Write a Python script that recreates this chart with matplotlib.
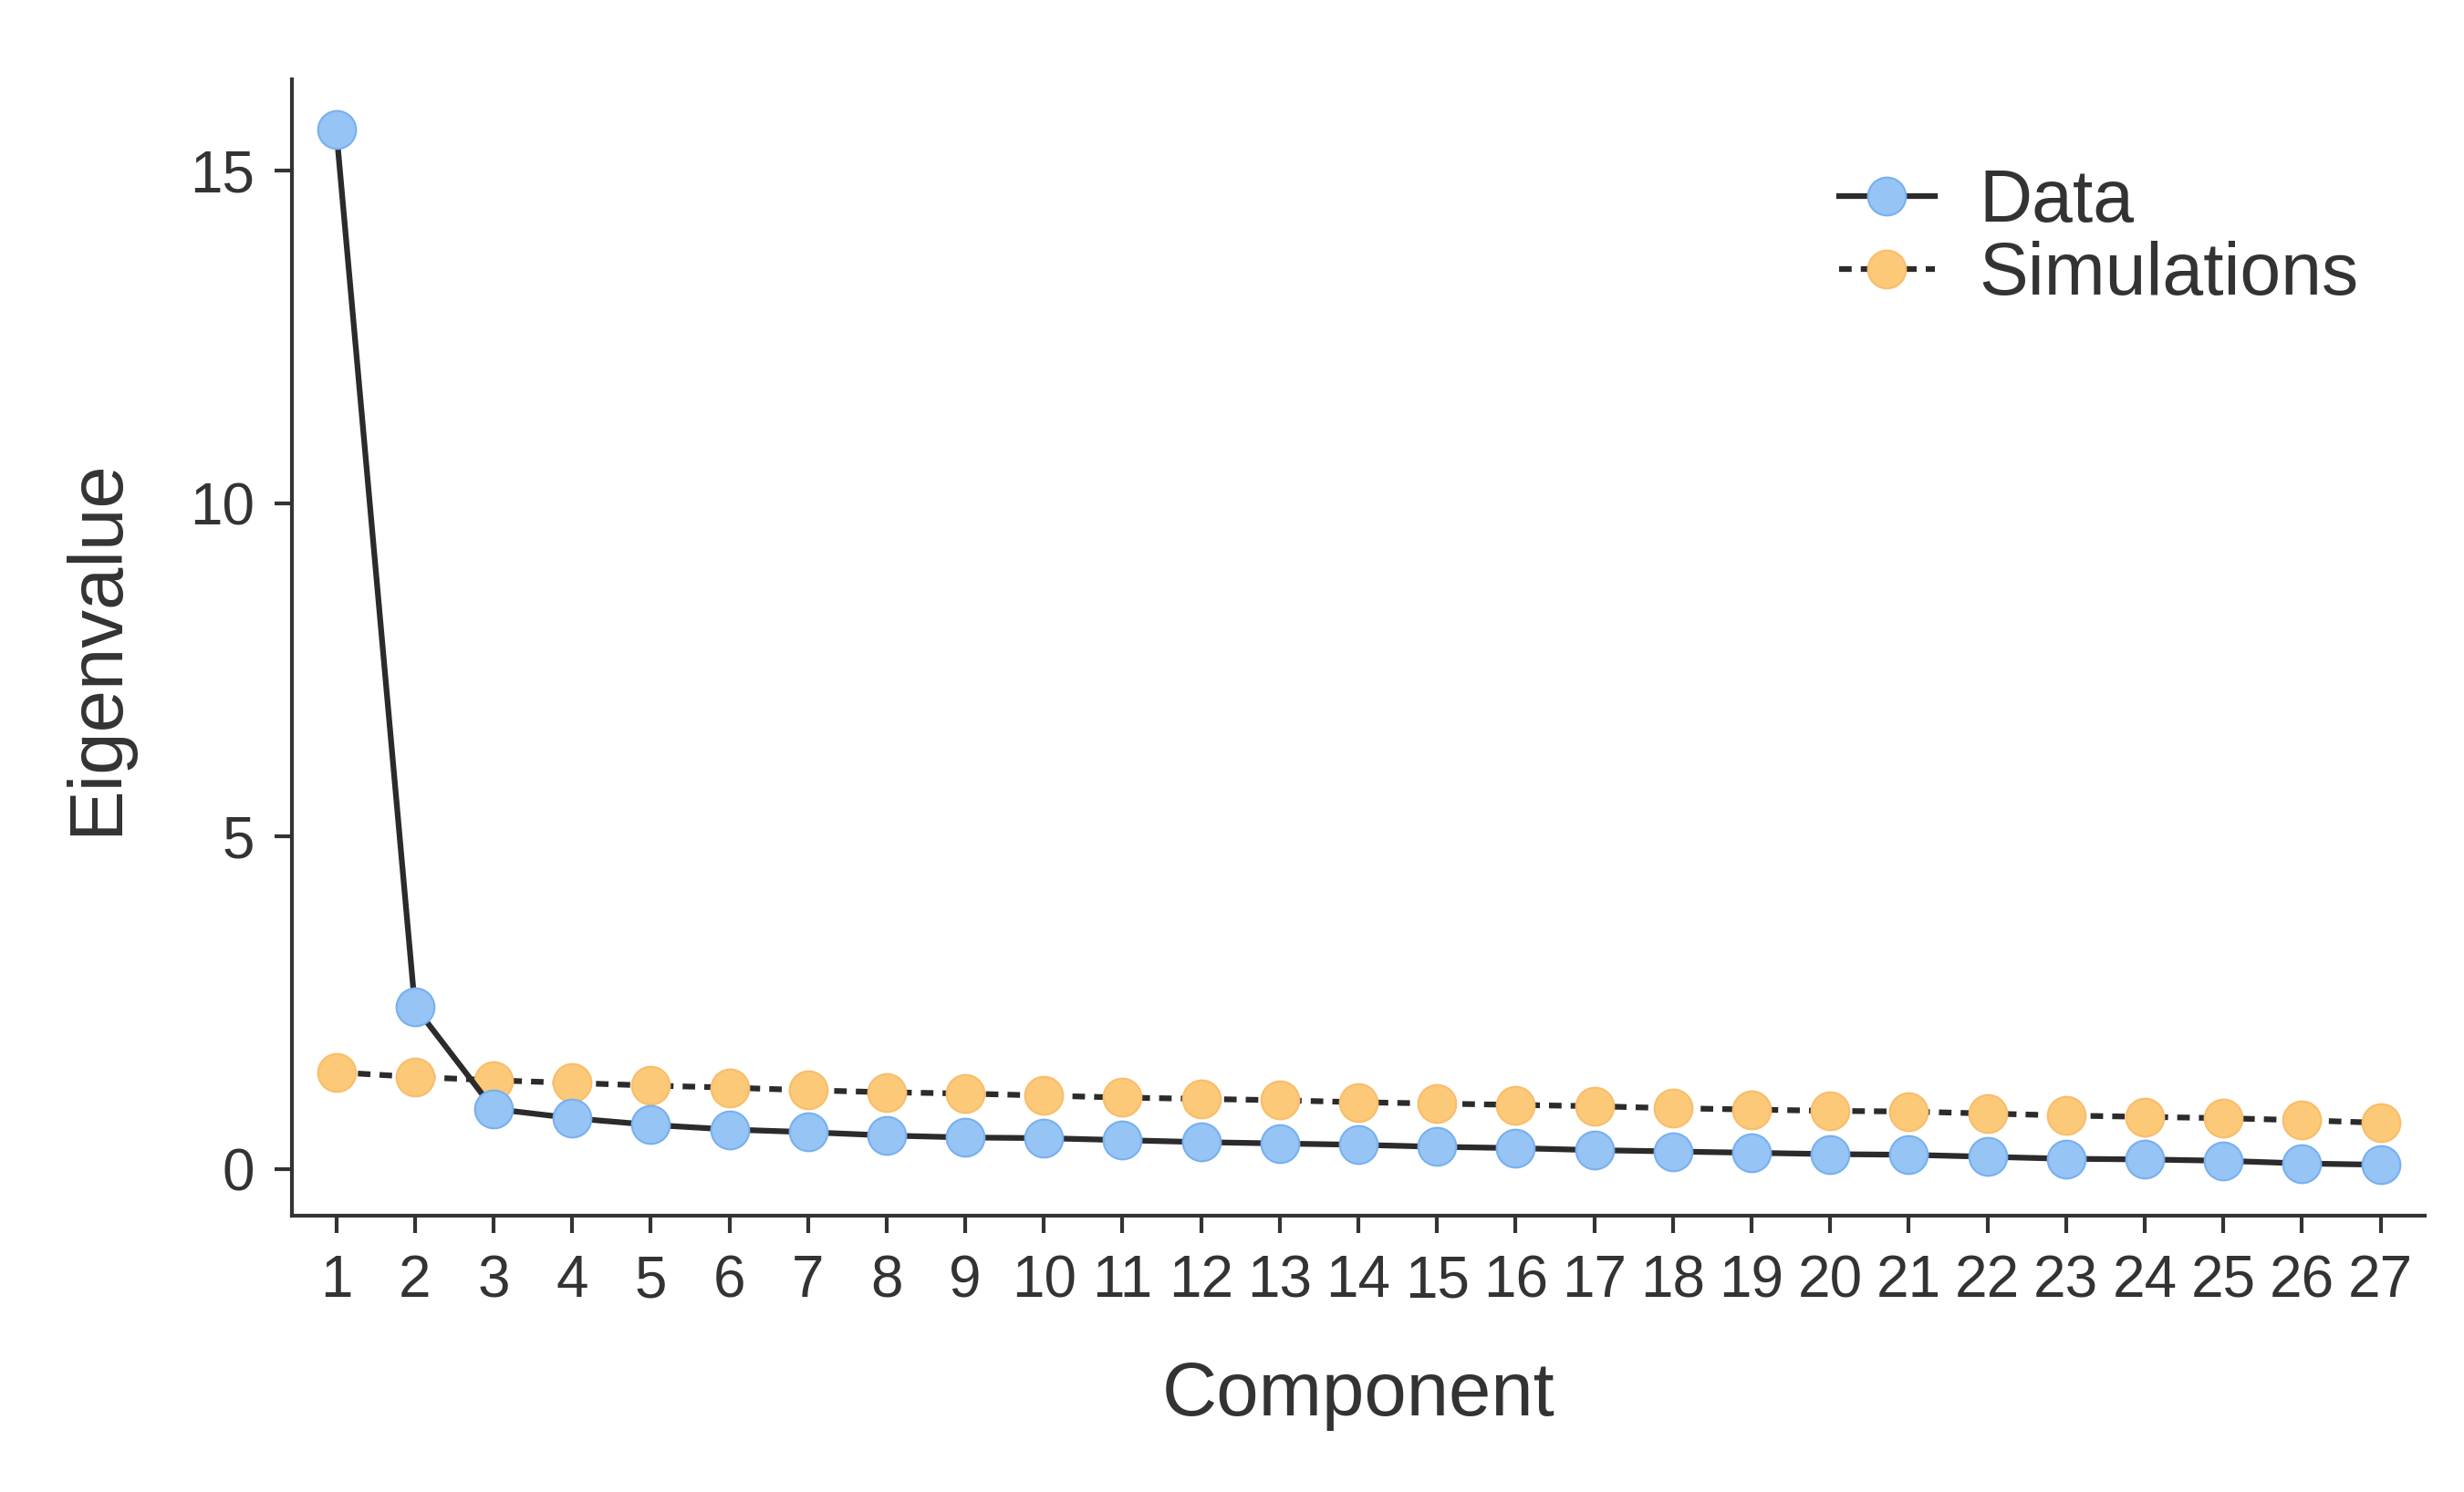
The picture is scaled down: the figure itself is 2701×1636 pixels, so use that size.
import matplotlib
matplotlib.use("Agg")
import matplotlib.pyplot as plt

components = list(range(1, 28))
data_eig = [15.62, 2.44, 0.90, 0.76, 0.66, 0.59, 0.55, 0.50, 0.47, 0.46, 0.43, 0.40, 0.38, 0.36,
            0.33, 0.31, 0.28, 0.26, 0.24, 0.22, 0.21, 0.18, 0.15, 0.14, 0.12, 0.08, 0.06]
sim_eig = [1.45, 1.38, 1.33, 1.29, 1.25, 1.22, 1.18, 1.15, 1.13, 1.10, 1.07, 1.05, 1.03, 1.00,
           0.98, 0.96, 0.94, 0.91, 0.89, 0.87, 0.86, 0.83, 0.80, 0.78, 0.76, 0.73, 0.69]
yticks = [0, 5, 10, 15]

plt.rcParams['font.family'] = ['Liberation Sans', 'DejaVu Sans']
txt = '#333333'
fig = plt.figure(figsize=(27.01, 16.36), dpi=100)
ax = fig.add_axes([0.1186, 0.185, 0.8654, 0.762])

ax.plot(components, sim_eig, color='#2b2b2b', lw=4.5, ls=(0, (2.2, 1.6)), marker='o', ms=30,
        mfc='#fcc979', mec='#f9bd6a', mew=1.5, label='Simulations', zorder=2)
ax.plot(components, data_eig, color='#2b2b2b', lw=4.5, marker='o', ms=30,
        mfc='#95c4f5', mec='#78b0ef', mew=1.5, label='Data', zorder=3)

ax.set_xlim(0.44, 27.56)
ax.set_ylim(-0.71, 16.38)
ax.set_xticks(components)
ax.set_yticks(yticks)
for s in ['top', 'right']:
    ax.spines[s].set_visible(False)
for s in ['left', 'bottom']:
    ax.spines[s].set_linewidth(3)
    ax.spines[s].set_color(txt)
ax.tick_params(labelsize=46, length=14, width=3, colors=txt, pad=16)
ax.set_xlabel('Component', fontsize=60, color=txt, labelpad=40)
ax.set_ylabel('Eigenvalue', fontsize=60, color=txt, labelpad=45)

h, l = ax.get_legend_handles_labels()
leg = ax.legend(h[::-1], l[::-1], loc='upper right', bbox_to_anchor=(1.0, 0.98), frameon=False,
                fontsize=58, handlelength=1.3, handletextpad=0.6, labelspacing=0.05)
for t in leg.get_texts():
    t.set_color(txt)

fig.savefig('out.png', dpi=100)
